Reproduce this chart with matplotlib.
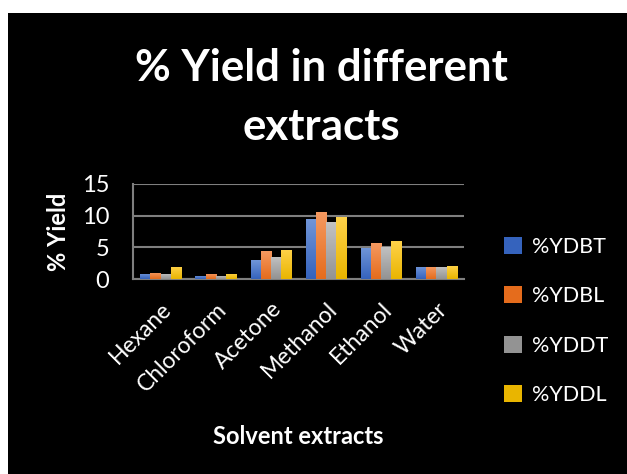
import numpy as np
import matplotlib
matplotlib.use("agg")
import matplotlib.pyplot as plt
from matplotlib.colors import LinearSegmentedColormap
from matplotlib.patches import Rectangle

plt.rcParams['font.family'] = ['Lato', 'DejaVu Sans']

solvents = ['Hexane', 'Chloroform', 'Acetone', 'Methanol', 'Ethanol', 'Water']
series_names = ['%YDBT', '%YDBL', '%YDDT', '%YDDL']
ydbt = [0.8, 0.5, 3.0, 9.5, 4.9, 1.9]
ydbl = [1.0, 0.8, 4.45, 10.6, 5.7, 1.9]
yddt = [0.8, 0.5, 3.5, 9.0, 5.1, 1.9]
yddl = [1.9, 0.8, 4.6, 9.8, 6.0, 2.1]
yticks = [0, 5, 10, 15]

# (bottom colour, top colour) for each series
shades = [('#3563bd', '#7196d8'),
          ('#e56c1c', '#f59a62'),
          ('#939393', '#c2c2c2'),
          ('#e9b500', '#ffd24a')]

fig = plt.figure(figsize=(6.27, 4.74), dpi=100)
fig.patch.set_facecolor('white')
fig.add_artist(Rectangle((8 / 627, 0), 1, 1 - 13 / 474, transform=fig.transFigure,
                         facecolor='black', edgecolor='none', zorder=-10))

ax = fig.add_axes([133 / 627, 1 - 279 / 474, 331 / 627, 95 / 474])
ax.set_facecolor('black')

x = np.arange(len(solvents))
w = 0.185
grad = np.linspace(0, 1, 64).reshape(-1, 1)
for i, (vals, name) in enumerate(zip([ydbt, ydbl, yddt, yddl], series_names)):
    lo, hi = shades[i]
    cmap = LinearSegmentedColormap.from_list(name, [lo, hi])
    bars = ax.bar(x + (i - 1.5) * w, vals, w, color=lo, label=name, zorder=3,
                  linewidth=0)
    for b in bars:
        im = ax.imshow(grad, cmap=cmap, origin='lower', aspect='auto',
                       extent=[b.get_x(), b.get_x() + b.get_width(), 0, b.get_height()],
                       zorder=4)
        im.set_clip_path(b)

ax.set_xlim(-0.5, len(solvents) - 0.5)
ax.set_ylim(0, 15)
ax.set_yticks(yticks)
ax.set_yticklabels([str(t) for t in yticks], color='white', fontsize=17)
ax.set_xticks(x)
ax.set_xticklabels(solvents, rotation=45, ha='right', rotation_mode='anchor',
                   color='white', fontsize=16.5)
ax.tick_params(length=0)
ax.tick_params(axis='y', pad=17)
ax.tick_params(axis='x', pad=14)
ax.grid(axis='y', color='#7f7f7f', linewidth=1.5, zorder=0)
for s in ['top', 'right']:
    ax.spines[s].set_visible(False)
for s in ['left', 'bottom']:
    ax.spines[s].set_color('#7f7f7f')
    ax.spines[s].set_linewidth(1.5)

fig.text(58 / 627, 1 - 232 / 474, '% Yield', color='white', fontsize=17,
         fontweight='bold', rotation=90, ha='center', va='center')
fig.text(298 / 627, 1 - 437 / 474, 'Solvent extracts', color='white', fontsize=17,
         fontweight='bold', ha='center', va='center')
fig.text(321 / 627, 1 - 68 / 474, '% Yield in different', color='white', fontsize=31.5,
         fontweight='bold', ha='center', va='center')
fig.text(321 / 627, 1 - 127 / 474, 'extracts', color='white', fontsize=31.5,
         fontweight='bold', ha='center', va='center')

leg = fig.legend(loc='upper left', bbox_to_anchor=(504 / 627, 1 - 237 / 474),
                 frameon=False, fontsize=15.5, labelcolor='white', handlelength=0.85,
                 handleheight=0.85, handletextpad=0.45, labelspacing=1.36, borderpad=0,
                 borderaxespad=0)

fig.savefig('out.png', dpi=100, facecolor=fig.get_facecolor())
